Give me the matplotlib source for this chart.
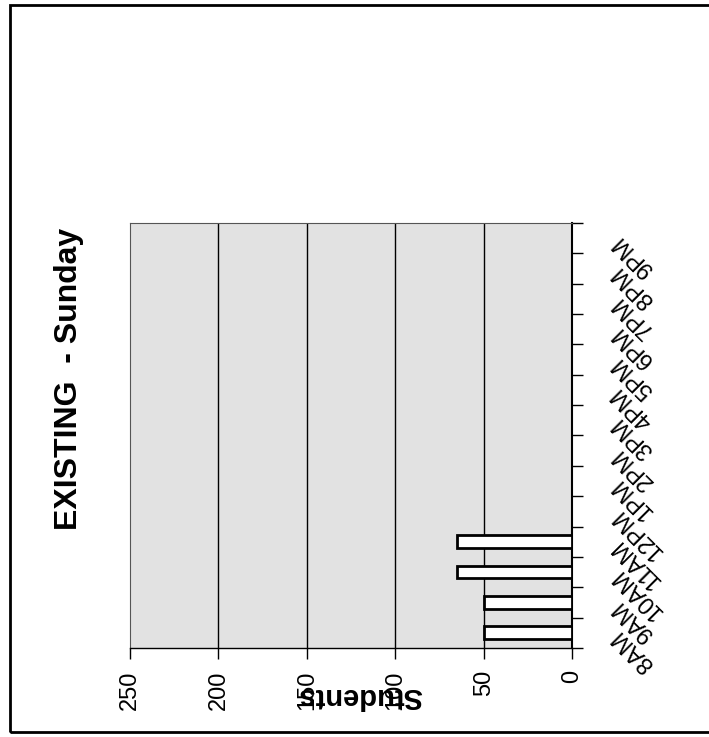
import matplotlib.pyplot as plt
from matplotlib.patches import Rectangle

plt.rcParams['font.family'] = ['Liberation Sans', 'DejaVu Sans']

# Students per hour slot, Sunday
hours = ['8AM', '9AM', '10AM', '11AM', '12PM', '1PM', '2PM', '3PM',
         '4PM', '5PM', '6PM', '7PM', '8PM', '9PM']
students = [50, 50, 65, 65, 0, 0, 0, 0, 0, 0, 0, 0, 0, 0]
value_ticks = [0, 50, 100, 150, 200, 250]

fig = plt.figure(figsize=(7.09, 7.37), dpi=100)
ax = fig.add_axes([0.1834, 0.1208, 0.6234, 0.5767])

# page frame (left, top, bottom edges; runs off the right side)
fig.patches.append(Rectangle((10 / 709, 5 / 737), 1.2, 727 / 737,
                             transform=fig.transFigure, fill=False,
                             edgecolor='black', linewidth=2, clip_on=False))

ax.set_facecolor('#e2e2e2')
pos = list(range(len(hours)))
ax.barh(pos, students, height=0.42, color='white', edgecolor='black',
        linewidth=2, zorder=3)

ax.set_xlim(250, 0)
ax.set_ylim(-0.5, len(hours) - 0.5)

ax.set_xticks(value_ticks)
ax.set_xticklabels([str(v) for v in value_ticks], rotation=90, fontsize=17)
ax.tick_params(axis='x', direction='out', length=8, width=1, pad=8)
for v in value_ticks[1:-1]:
    ax.axvline(v, color='black', linewidth=1, zorder=1)

# category labels on the right, tick marks between categories
ax.yaxis.tick_right()
ax.set_yticks(pos)
ax.set_yticklabels(hours, fontsize=17, rotation=135, rotation_mode='anchor',
                   ha='right', va='center')
ax.set_yticks([p - 0.5 for p in pos] + [len(hours) - 0.5], minor=True)
ax.tick_params(axis='y', which='major', length=0, pad=31)
ax.tick_params(axis='y', which='minor', direction='out', length=8, width=1)

ax.spines['right'].set_linewidth(1.5)
ax.spines['bottom'].set_linewidth(1)
ax.spines['left'].set_color('#555555')
ax.spines['top'].set_color('#555555')

fig.text(69 / 709, 1 - 379 / 737, 'EXISTING  - Sunday', rotation=90,
         fontsize=23, fontweight='bold', ha='center', va='center')
fig.text(360 / 709, 1 - 696 / 737, 'Students', rotation=180,
         fontsize=21, fontweight='bold', ha='center', va='center')

plt.savefig('out.png', dpi=100)
